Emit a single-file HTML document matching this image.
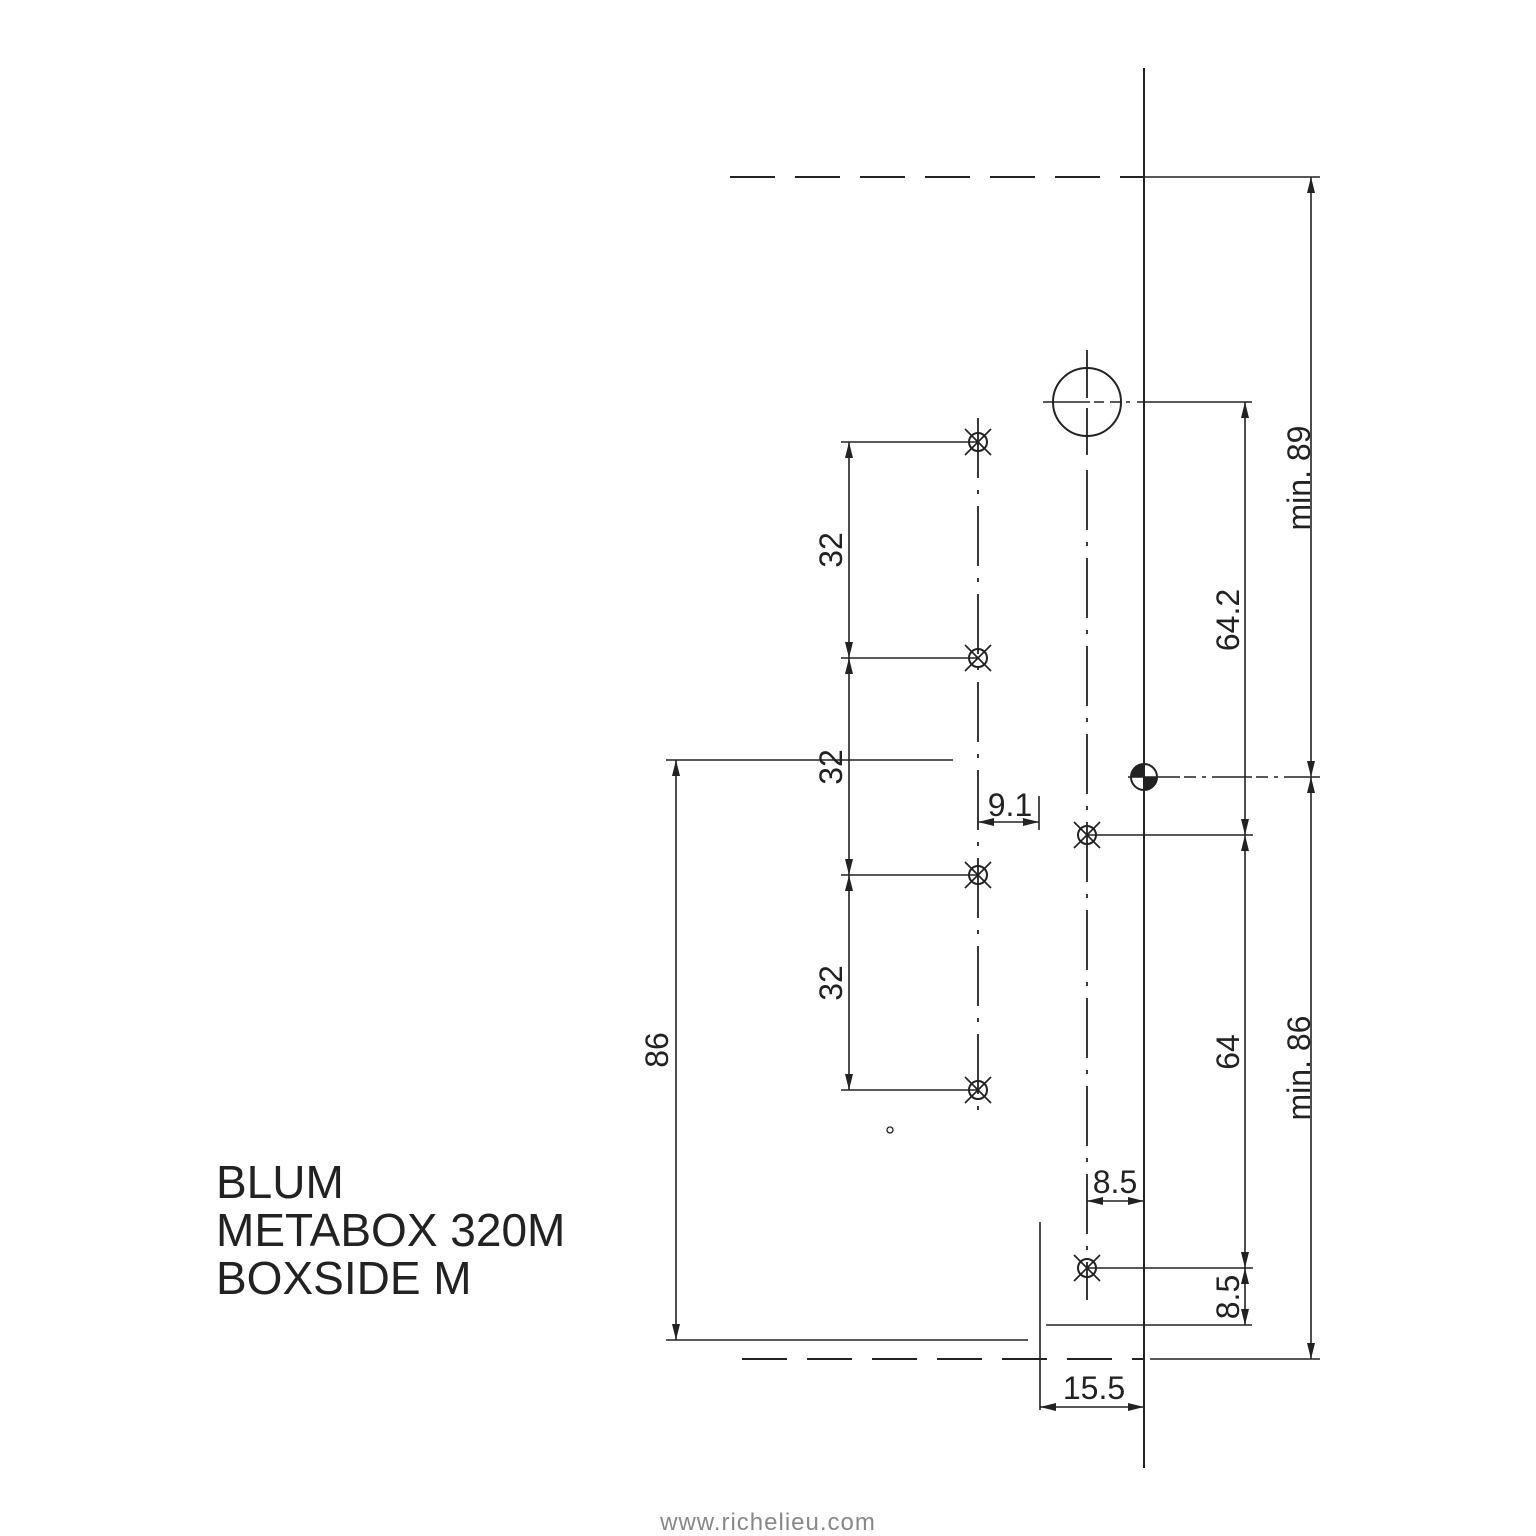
<!DOCTYPE html>
<html><head><meta charset="utf-8"><style>
html,body{margin:0;padding:0;background:#fff;}
svg{display:block;}
text{font-family:"Liberation Sans",Arial,sans-serif;fill:#222;}
</style></head><body>
<svg width="1536" height="1536" viewBox="0 0 1536 1536" xmlns="http://www.w3.org/2000/svg">
<defs>
<marker id="a" viewBox="0 0 16 8" refX="16" refY="4" markerWidth="16" markerHeight="8" markerUnits="userSpaceOnUse" orient="auto-start-reverse"><path d="M0,0 L16,4 L0,8 Z" fill="#222"/></marker>
<g id="h"><circle r="9" fill="none" stroke="#222" stroke-width="2"/><line x1="-13" y1="-13" x2="13" y2="13" stroke="#222" stroke-width="1.7"/><line x1="-13" y1="13" x2="13" y2="-13" stroke="#222" stroke-width="1.7"/></g>
</defs>
<g stroke="#222" stroke-width="2" fill="none">
<line x1="1144" y1="68" x2="1144" y2="1468"/>
<line x1="730" y1="177" x2="1144" y2="177" stroke-dasharray="45,20"/>
<line x1="1144" y1="177" x2="1320" y2="177" stroke-width="1.6"/>
<line x1="742" y1="1359" x2="1144" y2="1359" stroke-dasharray="45,20"/>
<line x1="1150" y1="1359" x2="1320" y2="1359" stroke-width="1.6"/>
<line x1="1311" y1="177" x2="1311" y2="777" stroke-width="1.6" marker-start="url(#a)" marker-end="url(#a)"/>
<line x1="1311" y1="777" x2="1311" y2="1359" stroke-width="1.6" marker-start="url(#a)" marker-end="url(#a)"/>
<circle cx="1087" cy="402" r="34"/>
<line x1="1043" y1="402" x2="1090" y2="402" stroke-width="1.6"/>
<line x1="1094" y1="402" x2="1130" y2="402" stroke-width="1.6" stroke-dasharray="10,6"/>
<line x1="1137" y1="402" x2="1252" y2="402" stroke-width="1.6"/>
<line x1="1087" y1="350" x2="1087" y2="398" stroke-width="1.8"/>
<line x1="1087" y1="408" x2="1087" y2="455" stroke-width="1.8"/>
<line x1="1087" y1="470" x2="1087" y2="1300" stroke-width="1.8" stroke-dasharray="60,12,4,12"/>
<circle cx="1144" cy="777" r="13"/>
<path d="M1131,777 A13,13 0 0 1 1144,764 L1144,777 Z" fill="#222" stroke="none"/>
<path d="M1157,777 A13,13 0 0 1 1144,790 L1144,777 Z" fill="#222" stroke="none"/>
<line x1="1128" y1="777" x2="1180" y2="777" stroke-width="1.6"/>
<line x1="1184" y1="777" x2="1320" y2="777" stroke-width="1.6" stroke-dasharray="12,6,4,6,40,4"/>
<line x1="1245" y1="402" x2="1245" y2="835" stroke-width="1.6" marker-start="url(#a)" marker-end="url(#a)"/>
<line x1="1245" y1="835" x2="1245" y2="1268" stroke-width="1.6" marker-start="url(#a)" marker-end="url(#a)"/>
<line x1="1087" y1="835" x2="1253" y2="835" stroke-width="1.6"/>
<line x1="1087" y1="1268" x2="1253" y2="1268" stroke-width="1.6"/>
<line x1="1046" y1="1325" x2="1252" y2="1325" stroke-width="1.6"/>
<line x1="1245" y1="1268" x2="1245" y2="1325" stroke-width="1.6"/>
<path d="M1245,1268 l-4,16 l8,0 Z M1245,1325 l-4,-16 l8,0 Z" fill="#222" stroke="none"/>
<line x1="1087" y1="1201" x2="1144" y2="1201" stroke-width="1.6" marker-start="url(#a)" marker-end="url(#a)"/>
<line x1="1040" y1="1222" x2="1040" y2="1410" stroke-width="1.6"/>
<line x1="1040" y1="1407" x2="1144" y2="1407" stroke-width="1.6" marker-start="url(#a)" marker-end="url(#a)"/>
<line x1="978" y1="418" x2="978" y2="1120" stroke-width="1.8" stroke-dasharray="60,12,4,12"/>
<line x1="841" y1="442" x2="978" y2="442" stroke-width="1.6"/>
<line x1="841" y1="658" x2="978" y2="658" stroke-width="1.6"/>
<line x1="841" y1="875" x2="978" y2="875" stroke-width="1.6"/>
<line x1="841" y1="1090" x2="978" y2="1090" stroke-width="1.6"/>
<line x1="849" y1="442" x2="849" y2="658" stroke-width="1.6" marker-start="url(#a)" marker-end="url(#a)"/>
<line x1="849" y1="658" x2="849" y2="875" stroke-width="1.6" marker-start="url(#a)" marker-end="url(#a)"/>
<line x1="849" y1="875" x2="849" y2="1090" stroke-width="1.6" marker-start="url(#a)" marker-end="url(#a)"/>
<line x1="666" y1="760" x2="953" y2="760" stroke-width="1.6"/>
<line x1="666" y1="1340" x2="1028" y2="1340" stroke-width="1.6"/>
<line x1="676" y1="760" x2="676" y2="1340" stroke-width="1.6" marker-start="url(#a)" marker-end="url(#a)"/>
<line x1="1039" y1="796" x2="1039" y2="830" stroke-width="1.6"/>
<line x1="978" y1="822" x2="1039" y2="822" stroke-width="1.6" marker-start="url(#a)" marker-end="url(#a)"/>
<circle cx="890" cy="1130" r="3" stroke-width="1.3"/>
</g>
<use href="#h" x="978" y="442"/><use href="#h" x="978" y="658"/><use href="#h" x="978" y="875"/><use href="#h" x="978" y="1090"/>
<use href="#h" x="1087" y="835"/><use href="#h" x="1087" y="1268"/>
<g font-size="32">
<text x="1010" y="816" text-anchor="middle">9.1</text>
<text x="1115" y="1193" text-anchor="middle">8.5</text>
<text x="1094" y="1399" text-anchor="middle">15.5</text>
<text transform="translate(1310,478) rotate(-90)" text-anchor="middle">min. 89</text>
<text transform="translate(1310,1068) rotate(-90)" text-anchor="middle">min. 86</text>
<text transform="translate(1239,620) rotate(-90)" text-anchor="middle">64.2</text>
<text transform="translate(1239,1052) rotate(-90)" text-anchor="middle">64</text>
<text transform="translate(1239,1297) rotate(-90)" text-anchor="middle">8.5</text>
<text transform="translate(842,550) rotate(-90)" text-anchor="middle">32</text>
<text transform="translate(842,767) rotate(-90)" text-anchor="middle">32</text>
<text transform="translate(842,983) rotate(-90)" text-anchor="middle">32</text>
<text transform="translate(668,1050) rotate(-90)" text-anchor="middle">86</text>
</g>
<g font-size="46">
<text x="216" y="1198">BLUM</text>
<text x="216" y="1246">METABOX 320M</text>
<text x="216" y="1294">BOXSIDE M</text>
</g>
<text x="768" y="1530" text-anchor="middle" font-size="24" style="fill:#888;letter-spacing:1px">www.richelieu.com</text>
</svg>
</body></html>
